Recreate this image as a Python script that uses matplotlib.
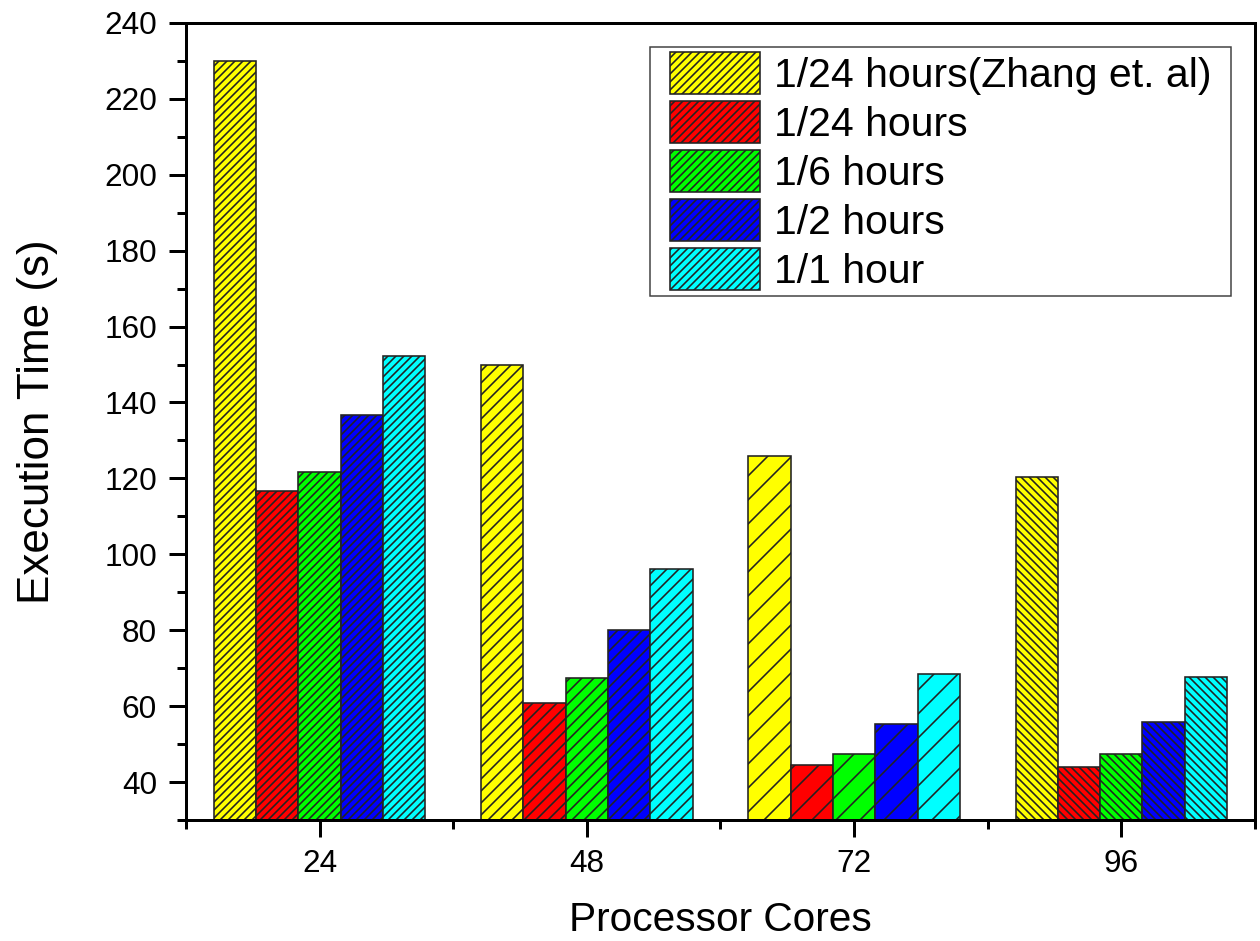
import numpy as np
import matplotlib
matplotlib.use("Agg")
import matplotlib.pyplot as plt
from matplotlib.patches import Rectangle
from matplotlib.ticker import MultipleLocator, FixedLocator

plt.rcParams['font.family'] = ['Liberation Sans', 'DejaVu Sans']
plt.rcParams['hatch.linewidth'] = 0.8

cores = [24, 48, 72, 96]
series = ['1/24 hours(Zhang et. al)', '1/24 hours', '1/6 hours', '1/2 hours', '1/1 hour']
zhang_24h = [230.0, 150.0, 126.0, 120.5]
hours_24 = [116.7, 60.8, 44.5, 44.0]
hours_6 = [121.6, 67.5, 47.4, 47.4]
hours_2 = [136.7, 80.0, 55.3, 55.8]
hours_1 = [152.2, 96.0, 68.4, 67.6]
values = [zhang_24h, hours_24, hours_6, hours_2, hours_1]

colors = ['#ffff00', '#ff0000', '#00ff00', '#0000ff', '#00ffff']
hatches = ['//////', '////', '//', '\\' * 6]  # one pattern per core group
bar_w = 3.8

fig = plt.figure(figsize=(1260 / 144, 941 / 144), dpi=144)
ax = fig.add_axes([0.1476, 0.1286, 0.8484, 0.847])

x = np.array(cores, dtype=float)
for i, (name, vals, c) in enumerate(zip(series, values, colors)):
    bars = ax.bar(x + (i - 2) * bar_w, vals, width=bar_w, color=c,
                  edgecolor='#222222', linewidth=0.8, label=name)
    for patch, h in zip(bars, hatches):
        patch.set_hatch(h)

ax.set_xlim(12, 108)
ax.set_ylim(30, 240)
ax.set_xticks(cores)
ax.xaxis.set_minor_locator(FixedLocator([12, 36, 60, 84, 108]))
ax.set_yticks(np.arange(40, 241, 20))
ax.yaxis.set_minor_locator(MultipleLocator(10))

for s in ax.spines.values():
    s.set_linewidth(1.5)
ax.tick_params(which='major', direction='out', length=8.5, width=1.5,
               labelsize=15.75, pad=6)
ax.tick_params(which='minor', direction='out', length=4.5, width=1.5)
ax.tick_params(top=False, right=False, which='both')

ax.set_xlabel('Processor Cores', fontsize=20.3, labelpad=11)
ax.set_ylabel('Execution Time (s)', fontsize=22, labelpad=23)

leg = ax.legend(loc='upper right', bbox_to_anchor=(0.9635, 0.970),
                borderaxespad=0, fontsize=20.5, handlelength=2.2,
                handleheight=1.2, handletextpad=0.32, labelspacing=0.15,
                borderpad=0.12, frameon=False)
leg.set_zorder(10)

# legend frame drawn by hand: wider side padding than top/bottom
fig.canvas.draw()
bb = leg.get_window_extent(fig.canvas.get_renderer())
pad_x = 15
x0, y0 = fig.transFigure.inverted().transform((bb.x0 - pad_x, bb.y0))
x1, y1 = fig.transFigure.inverted().transform((bb.x1 + pad_x, bb.y1))
ax.add_patch(Rectangle((x0, y0), x1 - x0, y1 - y0, transform=fig.transFigure,
                       facecolor='white', edgecolor='#404040', linewidth=0.75,
                       clip_on=False, zorder=5))

fig.savefig('out.png', dpi=144)
